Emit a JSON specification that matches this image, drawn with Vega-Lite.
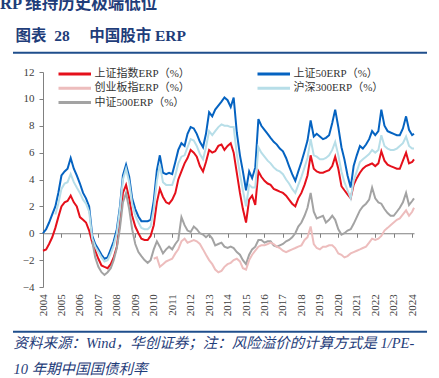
{
"$schema": "https://vega.github.io/schema/vega-lite/v6.json",
"width": 371, "height": 215,
"autosize": "none",
"padding": {"left": 43, "top": 72, "right": 25, "bottom": 91},
"background": "white",
"config": {
 "view": {"stroke": null},
 "axisX": {"format": "d", "labelAngle": -90, "labelAlign": "right", "labelBaseline": "middle", "offset": -53.75, "labelPadding": 56.5, "tickSize": 4, "domainColor": "#808080", "tickColor": "#808080", "labelFont": "Liberation Serif", "labelFontSize": 11, "labelColor": "#404040", "grid": false, "labelOverlap": false, "labelFlush": false,
  "titleX": -30, "titleY": 103, "titleAlign": "left", "titleAnchor": "start", "titleBaseline": "top", "titleFont": "Liberation Serif, Noto Sans CJK SC", "titleFontStyle": "italic", "titleFontSize": 14.5, "titleFontWeight": "normal", "titleColor": "#1F3D7A", "titleLineHeight": 26},
 "axisY": {"tickSize": 4, "domainColor": "#808080", "tickColor": "#808080", "labelFont": "Liberation Serif", "labelFontSize": 11, "labelColor": "#404040", "labelPadding": 5, "grid": false, "labelOverlap": false,
  "titleAngle": 0, "titleX": -28, "titleY": -37, "titleAlign": "left", "titleAnchor": "start", "titleBaseline": "middle", "titleFont": "Liberation Serif, Noto Sans CJK SC", "titleFontSize": 15.5, "titleFontWeight": "bold", "titleColor": "#1F3D7A"}
},
"title": {"text": "RP 维持历史极端低位", "anchor": "start", "frame": "group", "dx": -43, "dy": 16, "offset": 19, "baseline": "alphabetic", "font": "Liberation Serif, Noto Sans CJK SC", "fontSize": 16.5, "fontWeight": "bold", "color": "#1F3D7A"},
"datasets": {
"erp": [
{"t":2004.00,"a":-1.3,"b":0.0},
{"t":2004.17,"a":-1.2,"b":0.3},
{"t":2004.33,"a":-0.8,"b":0.8},
{"t":2004.50,"a":-0.3,"b":1.4},
{"t":2004.67,"a":0.4,"b":2.0,"d":1.4},
{"t":2004.83,"a":1.2,"b":3.0,"d":2.2},
{"t":2005.00,"a":2.0,"b":4.3,"d":3.3},
{"t":2005.17,"a":2.3,"b":4.6,"d":3.7},
{"t":2005.33,"a":2.4,"b":4.8,"d":3.8},
{"t":2005.50,"a":2.8,"b":5.6,"d":4.4},
{"t":2005.67,"a":2.3,"b":4.8,"d":3.8},
{"t":2005.83,"a":2.0,"b":4.3,"d":3.4},
{"t":2006.00,"a":1.2,"b":3.7,"d":3.0},
{"t":2006.17,"a":1.0,"b":3.0,"d":2.5},
{"t":2006.33,"a":0.8,"b":2.6,"d":2.2},
{"t":2006.50,"a":0.2,"b":2.0,"d":1.6},
{"t":2006.67,"a":-0.7,"b":-0.2,"d":-0.4,"e":-0.6},
{"t":2006.83,"a":-1.3,"b":-0.8,"d":-1.0,"e":-1.8},
{"t":2007.00,"a":-1.9,"b":-1.2,"d":-1.4,"e":-2.5},
{"t":2007.17,"a":-2.4,"b":-1.6,"d":-1.8,"e":-2.9},
{"t":2007.33,"a":-2.5,"b":-1.9,"d":-2.1,"e":-3.1},
{"t":2007.50,"a":-2.6,"b":-1.8,"d":-2.0,"e":-2.9},
{"t":2007.67,"a":-2.3,"b":-1.2,"d":-1.5,"e":-2.6},
{"t":2007.83,"a":-1.8,"b":-0.6,"d":-0.9,"e":-2.0},
{"t":2008.00,"a":-1.0,"b":0.3,"d":0.0,"e":-1.1},
{"t":2008.17,"a":0.8,"b":2.0,"d":1.8,"e":0.4},
{"t":2008.33,"a":3.0,"b":4.3,"d":4.0,"e":2.3},
{"t":2008.50,"a":3.6,"b":5.1,"d":4.8,"e":3.0},
{"t":2008.67,"a":2.6,"b":4.2,"d":3.8,"e":1.8},
{"t":2008.83,"a":1.3,"b":2.6,"d":2.2,"e":0.3},
{"t":2009.00,"a":0.5,"b":1.8,"d":1.3,"e":-0.8},
{"t":2009.17,"a":0.0,"b":1.25,"d":0.8,"e":-1.4},
{"t":2009.33,"a":-0.4,"b":0.9,"d":0.4,"e":-1.7},
{"t":2009.50,"a":-0.5,"b":0.9,"d":0.3,"e":-2.0},
{"t":2009.67,"a":-0.5,"b":0.9,"d":0.3,"e":-2.2},
{"t":2009.83,"a":-0.2,"b":1.0,"d":0.5,"e":-2.0},
{"t":2010.00,"a":0.6,"b":2.4,"c":-1.9,"d":1.8,"e":-1.2},
{"t":2010.17,"a":2.3,"b":4.7,"c":-1.8,"d":3.9,"e":-0.6},
{"t":2010.33,"a":3.3,"b":5.8,"c":-2.5,"d":5.1,"e":-1.0},
{"t":2010.50,"a":2.7,"b":4.5,"c":-2.3,"d":3.8,"e":-1.5},
{"t":2010.67,"a":2.3,"b":4.4,"c":-2.1,"d":3.6,"e":-1.2},
{"t":2010.83,"a":2.2,"b":4.5,"c":-2.0,"d":3.6,"e":-1.0},
{"t":2011.00,"a":2.5,"b":4.4,"c":-1.9,"d":3.6,"e":-1.2},
{"t":2011.17,"a":3.0,"b":5.3,"c":-1.5,"d":4.3,"e":-0.8},
{"t":2011.33,"a":4.0,"b":6.2,"c":-1.2,"d":5.2,"e":-0.5},
{"t":2011.50,"a":4.6,"b":6.7,"c":-0.6,"d":5.7,"e":1.2},
{"t":2011.67,"a":5.2,"b":6.5,"c":-0.4,"d":5.8,"e":0.6},
{"t":2011.83,"a":5.6,"b":7.4,"c":-0.7,"d":6.4,"e":0.2},
{"t":2012.00,"a":6.2,"b":7.9,"c":-0.6,"d":7.0,"e":0.1},
{"t":2012.17,"a":6.0,"b":7.8,"c":-0.5,"d":6.9,"e":0.5},
{"t":2012.33,"a":5.7,"b":7.4,"c":-0.6,"d":6.5,"e":0.3},
{"t":2012.50,"a":5.0,"b":6.8,"c":-0.8,"d":5.9,"e":0.0},
{"t":2012.67,"a":4.6,"b":6.4,"c":-1.2,"d":5.5,"e":-0.1},
{"t":2012.83,"a":5.3,"b":7.4,"c":-1.6,"d":6.4,"e":-0.3},
{"t":2013.00,"a":6.2,"b":9.0,"c":-2.0,"d":7.6,"e":-0.1},
{"t":2013.17,"a":6.0,"b":8.7,"c":-2.3,"d":7.3,"e":-0.4},
{"t":2013.33,"a":6.1,"b":9.2,"c":-2.7,"d":7.6,"e":-0.9},
{"t":2013.50,"a":6.5,"b":9.5,"c":-2.9,"d":7.9,"e":-0.8},
{"t":2013.67,"a":6.6,"b":9.8,"c":-2.8,"d":8.1,"e":-0.7},
{"t":2013.83,"a":6.2,"b":10.1,"c":-2.5,"d":8.0,"e":-1.0},
{"t":2014.00,"a":6.5,"b":9.9,"c":-2.3,"d":8.0,"e":-1.1},
{"t":2014.17,"a":6.7,"b":9.4,"c":-2.2,"d":7.9,"e":-1.0},
{"t":2014.33,"a":6.0,"b":10.1,"c":-2.0,"d":7.9,"e":-1.1},
{"t":2014.50,"a":4.5,"b":7.5,"c":-1.9,"d":5.9,"e":-1.4},
{"t":2014.67,"a":3.0,"b":5.8,"c":-2.1,"d":4.4,"e":-1.6},
{"t":2014.83,"a":1.8,"b":4.6,"c":-2.6,"d":3.2,"e":-2.0},
{"t":2015.00,"a":0.8,"b":3.2,"c":-2.7,"d":2.0,"e":-2.3},
{"t":2015.17,"a":2.5,"b":4.6,"c":-2.0,"d":3.6,"e":-1.6},
{"t":2015.33,"a":2.8,"b":4.1,"c":-1.6,"d":3.4,"e":-1.2},
{"t":2015.50,"a":2.1,"b":4.9,"c":-1.3,"d":3.4,"e":-1.0},
{"t":2015.67,"a":4.6,"b":8.5,"c":-1.0,"d":6.4,"e":-0.5},
{"t":2015.83,"a":4.2,"b":8.0,"c":-0.9,"d":6.0,"e":-0.5},
{"t":2016.00,"a":3.9,"b":7.7,"c":-0.9,"d":5.7,"e":-0.7},
{"t":2016.17,"a":3.7,"b":7.4,"c":-0.8,"d":5.4,"e":-0.6},
{"t":2016.33,"a":3.6,"b":7.1,"c":-0.7,"d":5.2,"e":-0.6},
{"t":2016.50,"a":3.3,"b":6.8,"c":-0.8,"d":4.9,"e":-0.9},
{"t":2016.67,"a":3.2,"b":6.6,"c":-1.0,"d":4.7,"e":-1.0},
{"t":2016.83,"a":3.1,"b":6.3,"c":-1.1,"d":4.6,"e":-0.9},
{"t":2017.00,"a":3.0,"b":6.1,"c":-1.3,"d":4.4,"e":-0.8},
{"t":2017.17,"a":2.8,"b":5.6,"c":-1.4,"d":4.0,"e":-0.6},
{"t":2017.33,"a":2.5,"b":5.0,"c":-1.3,"d":3.7,"e":-0.5},
{"t":2017.50,"a":2.2,"b":4.4,"c":-1.2,"d":3.3,"e":-0.3},
{"t":2017.67,"a":2.0,"b":3.9,"c":-1.1,"d":3.0,"e":0.0},
{"t":2017.83,"a":2.6,"b":4.6,"c":-1.0,"d":3.6,"e":0.5},
{"t":2018.00,"a":3.0,"b":5.3,"c":-0.9,"d":4.2,"e":0.8},
{"t":2018.17,"a":3.6,"b":6.1,"c":-0.5,"d":4.9,"e":1.3},
{"t":2018.33,"a":4.3,"b":6.9,"c":-0.3,"d":5.6,"e":1.9},
{"t":2018.50,"a":5.8,"b":8.4,"c":0.5,"d":7.0,"e":3.0},
{"t":2018.67,"a":4.8,"b":7.2,"c":-0.8,"d":5.8,"e":1.6},
{"t":2018.83,"a":4.6,"b":7.4,"c":-1.1,"d":5.7,"e":1.1},
{"t":2019.00,"a":4.5,"b":7.2,"c":-1.2,"d":5.5,"e":1.2},
{"t":2019.17,"a":4.5,"b":7.0,"c":-1.0,"d":5.5,"e":1.3},
{"t":2019.33,"a":4.6,"b":7.1,"c":-1.0,"d":5.6,"e":0.8},
{"t":2019.50,"a":4.7,"b":7.3,"c":-0.9,"d":5.8,"e":1.0},
{"t":2019.67,"a":5.0,"b":8.2,"c":-0.9,"d":6.2,"e":1.3},
{"t":2019.83,"a":5.7,"b":9.2,"c":-1.1,"d":6.8,"e":1.0},
{"t":2020.00,"a":4.8,"b":7.9,"c":-1.5,"d":5.8,"e":0.3},
{"t":2020.17,"a":3.5,"b":6.4,"c":-1.6,"d":4.6,"e":-0.1},
{"t":2020.33,"a":3.2,"b":5.5,"c":-1.8,"d":3.8,"e":0.0},
{"t":2020.50,"a":2.9,"b":4.3,"c":-1.7,"d":3.2,"e":0.2},
{"t":2020.67,"a":2.6,"b":3.4,"c":-1.5,"d":2.6,"e":0.3},
{"t":2020.83,"a":3.6,"b":5.0,"c":-1.4,"d":3.9,"e":0.7},
{"t":2021.00,"a":4.1,"b":5.8,"c":-1.3,"d":4.6,"e":1.2},
{"t":2021.17,"a":4.5,"b":6.5,"c":-1.2,"d":5.3,"e":1.7},
{"t":2021.33,"a":4.8,"b":6.3,"c":-1.1,"d":5.5,"e":2.0},
{"t":2021.50,"a":5.0,"b":6.6,"c":-1.0,"d":5.7,"e":2.2},
{"t":2021.67,"a":5.1,"b":7.0,"c":-0.7,"d":5.9,"e":2.5},
{"t":2021.83,"a":5.2,"b":7.6,"c":-0.4,"d":6.2,"e":3.4},
{"t":2022.00,"a":5.0,"b":7.3,"c":-0.5,"d":6.0,"e":2.6},
{"t":2022.17,"a":5.2,"b":7.6,"c":-0.4,"d":6.2,"e":2.3},
{"t":2022.33,"a":6.1,"b":9.2,"c":-0.2,"d":7.3,"e":2.2},
{"t":2022.50,"a":5.4,"b":8.0,"c":0.2,"d":6.5,"e":1.8},
{"t":2022.67,"a":5.1,"b":7.6,"c":0.4,"d":6.3,"e":1.5},
{"t":2022.83,"a":5.0,"b":7.5,"c":0.6,"d":6.2,"e":1.3},
{"t":2023.00,"a":4.9,"b":7.4,"c":0.8,"d":6.2,"e":1.3},
{"t":2023.17,"a":4.8,"b":7.3,"c":1.0,"d":6.3,"e":1.6},
{"t":2023.33,"a":4.8,"b":7.3,"c":1.1,"d":6.5,"e":1.9},
{"t":2023.50,"a":5.4,"b":7.8,"c":1.4,"d":6.7,"e":2.3},
{"t":2023.67,"a":6.0,"b":8.7,"c":1.7,"d":7.2,"e":3.0},
{"t":2023.83,"a":5.2,"b":7.7,"c":1.3,"d":6.5,"e":2.1},
{"t":2024.00,"a":5.3,"b":7.3,"c":1.6,"d":6.3,"e":2.4},
{"t":2024.10,"a":5.5,"b":7.4,"c":1.9,"d":6.3,"e":2.6}
]},
"layer": [
{
"data": {"name": "erp"},
"transform": [{"fold": ["a","b","c","d","e"], "as": ["s","v"]}, {"filter": "isValid(datum.v)"}],
"mark": {"type": "line", "strokeWidth": 2, "clip": false},
"encoding": {
"x": {"field": "t", "type": "quantitative", "scale": {"domain": [2004, 2024.1], "nice": false, "zero": false},
 "axis": {"values": [2004,2005,2006,2007,2008,2009,2010,2011,2012,2013,2014,2015,2016,2017,2018,2019,2020,2021,2022,2023,2024],
 "title": ["资料来源：Wind，华创证券；注：风险溢价的计算方式是 1/PE-", "10 年期中国国债利率"]}},
"y": {"field": "v", "type": "quantitative", "scale": {"domain": [-4, 12], "nice": false, "zero": false},
 "axis": {"values": [-4,-2,0,2,4,6,8,10,12], "title": "图表\u00a0\u00a028\u00a0\u00a0\u00a0\u00a0\u00a0中国股市\u00a0ERP"}},
"color": {"field": "s", "type": "nominal", "scale": {"domain": ["a","b","c","d","e"], "range": ["#E5101B","#0563C1","#EDBDBD","#B7DEE8","#A3A3A3"]},
 "legend": {"title": null, "orient": "none", "direction": "horizontal", "legendX": 23.75, "legendY": -6, "columns": 2, "columnPadding": 60, "rowPadding": 0.3, "padding": 0, "symbolType": "M-2.5,0H2.5", "symbolSize": 169, "symbolStrokeWidth": 3, "labelOffset": 11.75, "labelFont": "Liberation Serif, Noto Sans CJK SC", "labelFontSize": 11, "labelColor": "#333333",
 "labelExpr": "datum.label == 'a' ? '上证指数ERP（%）' : datum.label == 'b' ? '上证50ERP（%）' : datum.label == 'c' ? '创业板指ERP（%）' : datum.label == 'd' ? '沪深300ERP（%）' : '中证500ERP（%）'"}}
}
},
{
"data": {"values": [{}]},
"mark": {"type": "rule", "color": "#1F4E8C", "strokeWidth": 2, "clip": false},
"encoding": {
"x": {"datum": 2002.375, "type": "quantitative", "axis": {"values": [2004,2005,2006,2007,2008,2009,2010,2011,2012,2013,2014,2015,2016,2017,2018,2019,2020,2021,2022,2023,2024], "title": ["资料来源：Wind，华创证券；注：风险溢价的计算方式是 1/PE-", "10 年期中国国债利率"]}},
"x2": {"datum": 2024.805},
"y": {"datum": 13.44, "type": "quantitative", "axis": {"values": [-4,-2,0,2,4,6,8,10,12], "title": "图表\u00a0\u00a028\u00a0\u00a0\u00a0\u00a0\u00a0中国股市\u00a0ERP"}}}
},
{
"data": {"values": [{}]},
"mark": {"type": "rule", "color": "#1F4E8C", "strokeWidth": 2, "clip": false},
"encoding": {
"x": {"datum": 2002.375, "type": "quantitative", "axis": {"values": [2004,2005,2006,2007,2008,2009,2010,2011,2012,2013,2014,2015,2016,2017,2018,2019,2020,2021,2022,2023,2024], "title": ["资料来源：Wind，华创证券；注：风险溢价的计算方式是 1/PE-", "10 年期中国国债利率"]}},
"x2": {"datum": 2024.805},
"y": {"datum": -7.33, "type": "quantitative", "axis": {"values": [-4,-2,0,2,4,6,8,10,12], "title": "图表\u00a0\u00a028\u00a0\u00a0\u00a0\u00a0\u00a0中国股市\u00a0ERP"}}}
}
]
}
